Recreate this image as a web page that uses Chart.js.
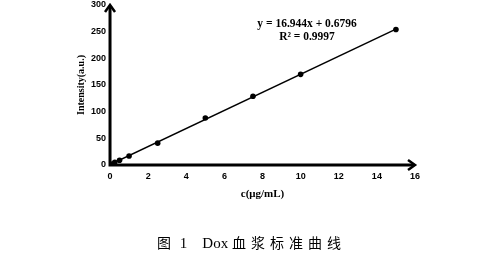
<!DOCTYPE html>
<html>
<head>
<meta charset="utf-8">
<script src="https://cdn.jsdelivr.net/npm/chart.js@4.4.0/dist/chart.umd.min.js"></script>
<style>
  html, body { margin: 0; padding: 0; background: #fff; }
  #wrap { position: relative; width: 503px; height: 259px; }
  #caption {
    position: absolute; left: 0; top: 232px; width: 503px; text-align: center;
    font-family: "Liberation Serif", serif; font-size: 15px; color: #000; white-space: pre;
  }
  #caption .cjk { font-family: "Noto Sans CJK SC", sans-serif; font-size: 14px; letter-spacing: 5px; }
</style>
</head>
<body>
<div id="wrap">
  <canvas id="chart1"></canvas>
  <div id="caption"><span class="cjk">图</span> 1    Dox <span class="cjk">血浆标准曲线</span></div>
</div>
<script>
// concentration (ug/mL) and measured intensity
const concs = [0.1, 0.25, 0.5, 1, 2.5, 5, 7.5, 10, 15];
const intensity = [2, 5, 9, 17, 41, 88, 129, 170, 254];
// trend line end points, y = 16.944x + 0.6796
const fitX = [0, 15];
const fitY = [0.7, 254.8];
const xTicks = [0, 2, 4, 6, 8, 10, 12, 14, 16];
const yTicks = [0, 50, 100, 150, 200, 250, 300];
const eqLines = ["y = 16.944x + 0.6796", "R² = 0.9997"];

const tickFont = { family: "Liberation Sans", size: 9, weight: "bold" };
const titleFont = { family: "Liberation Serif", size: 11, weight: "bold" };

const axesArrows = {
    id: "axesArrows",
    afterDatasetsDraw(chart) {
        const { ctx, chartArea: a } = chart;
        ctx.save();
        ctx.strokeStyle = "#000";
        ctx.lineWidth = 3;
        ctx.lineCap = "butt";
        ctx.beginPath();
        ctx.moveTo(a.left, a.top + 1);
        ctx.lineTo(a.left, a.bottom);
        ctx.lineTo(a.right - 1, a.bottom);
        ctx.stroke();
        // arrow heads
        ctx.lineWidth = 2.5;
        ctx.lineJoin = "miter";
        ctx.beginPath();
        ctx.moveTo(a.left - 5, a.top + 7);
        ctx.lineTo(a.left, a.top);
        ctx.lineTo(a.left + 5, a.top + 7);
        ctx.moveTo(a.right - 7, a.bottom - 5);
        ctx.lineTo(a.right, a.bottom);
        ctx.lineTo(a.right - 7, a.bottom + 5);
        ctx.stroke();

        // regression text
        ctx.fillStyle = "#000";
        ctx.font = "bold 11.5px 'Liberation Serif'";
        ctx.textAlign = "center";
        ctx.textBaseline = "middle";
        const cx = 307;
        ctx.fillText(eqLines[0], cx, 24);
        ctx.fillText(eqLines[1], cx, 37);
        ctx.restore();
    }
};

new Chart(document.getElementById("chart1").getContext("2d"), {
    type: "scatter",
    data: {
        datasets: [
            {
                data: fitX.map((x, i) => ({ x, y: fitY[i] })),
                showLine: true,
                borderColor: "#000",
                borderWidth: 1.5,
                pointRadius: 0,
            },
            {
                data: concs.map((x, i) => ({ x, y: intensity[i] })),
                backgroundColor: "#000",
                borderColor: "#000",
                pointRadius: 2.8,
                borderWidth: 0,
            }
        ]
    },
    options: {
        responsive: true,
        maintainAspectRatio: false,
        animation: false,
        layout: { padding: { left: 71, right: 88, top: 5, bottom: 54 } },
        plugins: { legend: { display: false }, tooltip: { enabled: false } },
        scales: {
            x: {
                type: "linear",
                min: 0, max: 16,
                afterBuildTicks: (s) => { s.ticks = xTicks.map(v => ({ value: v })); },
                grid: { display: false, drawTicks: false },
                border: { display: false },
                ticks: { color: "#000", font: tickFont, padding: 6, maxRotation: 0 },
                title: { display: true, text: "c(μg/mL)", color: "#000", font: titleFont, padding: { top: 0, bottom: 4 } }
            },
            y: {
                min: 0, max: 300,
                afterBuildTicks: (s) => { s.ticks = yTicks.map(v => ({ value: v })); },
                afterFit: (s) => { s.paddingTop = 0; s.paddingBottom = 0; },
                grid: { display: false, drawTicks: false },
                border: { display: false },
                ticks: { color: "#000", font: tickFont, padding: 4 },
                title: { display: true, text: "Intensity(a.u.)", color: "#000", font: { family: "Liberation Serif", size: 10, weight: "bold" }, padding: { top: 4, bottom: 0 } }
            }
        }
    },
    plugins: [axesArrows]
});
</script>
</body>
</html>
